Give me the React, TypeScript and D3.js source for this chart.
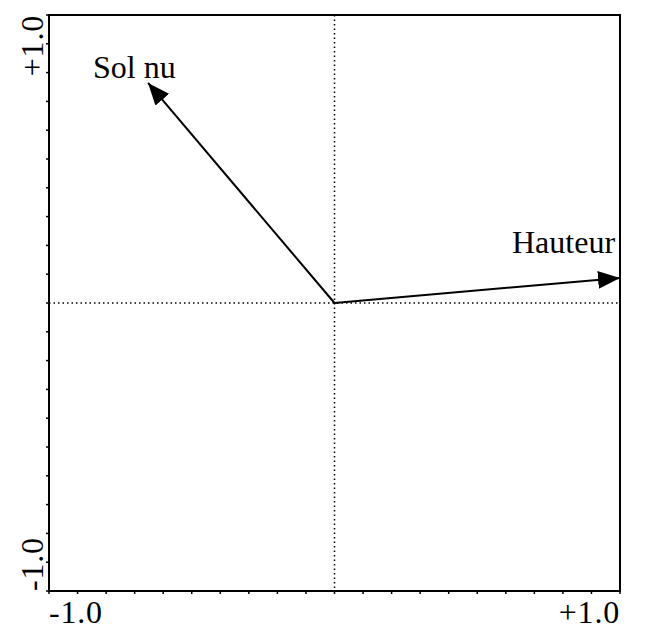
import React from "react";
import * as d3 from "d3";

const variables = ["Hauteur", "Sol nu"];
const axis1 = [1.0, -0.653];
const axis2 = [0.087, 0.764];
const tickValues = d3.range(-10, 11).map((i) => i / 10);
const endLabels = ["-1.0", "+1.0"];

const W = 646;
const H = 630;

export default function App() {
  const x = d3.scaleLinear().domain([-1, 1]).range([49, 620]);
  const y = d3.scaleLinear().domain([-1, 1]).range([591, 15]);
  const font = "'Liberation Serif', 'Times New Roman', serif";
  const labelPos = [
    { dx: -108, dy: -25, anchor: "start" },
    { dx: -55, dy: -5, anchor: "start" },
  ];
  return (
    <svg width={W} height={H} style={{ position: "absolute", left: 0, top: 0 }}>
      <defs>
        <marker
          id="ah"
          viewBox="0 0 22 18"
          refX={22}
          refY={9}
          markerWidth={22}
          markerHeight={18}
          markerUnits="userSpaceOnUse"
          orient="auto"
        >
          <path d="M0,0 L22,9 L0,18 Z" fill="#000" />
        </marker>
      </defs>
      <rect width={W} height={H} fill="#fff" />
      {/* dotted center lines */}
      <line x1={x(0)} x2={x(0)} y1={y(1)} y2={y(-1)} stroke="#000" strokeWidth={1.5} strokeDasharray="1.5,3" />
      <line x1={x(-1)} x2={x(1)} y1={y(0)} y2={y(0)} stroke="#000" strokeWidth={1.5} strokeDasharray="1.5,3" />
      {/* frame */}
      <rect x={x(-1)} y={y(1)} width={x(1) - x(-1)} height={y(-1) - y(1)} fill="none" stroke="#000" strokeWidth={2} />
      {/* ticks */}
      {tickValues.map((t, i) => (
        <g key={i}>
          <line x1={x(-1) - 3} x2={x(-1)} y1={y(t)} y2={y(t)} stroke="#000" strokeWidth={1.5} />
          <line x1={x(t)} x2={x(t)} y1={y(-1)} y2={y(-1) + 3} stroke="#000" strokeWidth={1.5} />
        </g>
      ))}
      {/* tick labels */}
      <text x={x(-1)} y={623} fontFamily={font} fontSize={32} letterSpacing={0.8} textAnchor="start">{endLabels[0]}</text>
      <text x={x(1)} y={623} fontFamily={font} fontSize={32} letterSpacing={0.8} textAnchor="end">{endLabels[1]}</text>
      <text transform={`translate(43,${y(-1)}) rotate(-90)`} fontFamily={font} fontSize={32} letterSpacing={0.8} textAnchor="start">{endLabels[0]}</text>
      <text transform={`translate(43,${y(1)}) rotate(-90)`} fontFamily={font} fontSize={32} letterSpacing={0.8} textAnchor="end">{endLabels[1]}</text>
      {/* arrows */}
      {variables.map((v, i) => (
        <g key={v}>
          <line
            x1={x(0)}
            y1={y(0)}
            x2={x(axis1[i])}
            y2={y(axis2[i])}
            stroke="#000"
            strokeWidth={2}
            markerEnd="url(#ah)"
          />
          <text
            x={x(axis1[i]) + labelPos[i].dx}
            y={y(axis2[i]) + labelPos[i].dy}
            fontFamily={font}
            fontSize={32}
            textAnchor={labelPos[i].anchor}
          >
            {v}
          </text>
        </g>
      ))}
    </svg>
  );
}
